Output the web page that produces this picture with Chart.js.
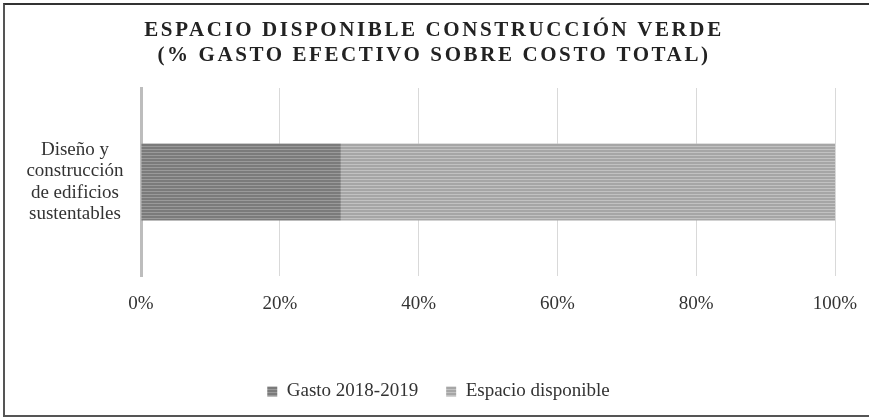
<!DOCTYPE html>
<html>
<head>
<meta charset="utf-8">
<script src="https://cdn.jsdelivr.net/npm/chart.js@4.4.1/dist/chart.umd.min.js"></script>
<style>
  html, body { margin: 0; padding: 0; background: #fff; }
  #wrap { position: relative; width: 869px; height: 417px; }
  #frame {
    position: absolute; left: 3px; top: 3px; width: 880px; height: 410px;
    border-left: 2px solid #555; border-top: 2px solid #333; border-bottom: 2px solid #555;
    pointer-events: none;
  }
  canvas { position: absolute; left: 0; top: 0; }
</style>
</head>
<body>
<div id="wrap">
  <canvas id="chart" width="869" height="417"></canvas>
  <div id="frame"></div>
</div>
<script>
const titleLines = ["ESPACIO DISPONIBLE CONSTRUCCIÓN VERDE", "(% GASTO EFECTIVO SOBRE COSTO TOTAL)"];
const categories = [["Diseño y", "construcción", "de edificios", "sustentables"]];
const seriesNames = ["Gasto 2018-2019", "Espacio disponible"];
const gastoValues = [0.288];
const espacioValues = [0.712];
const xTicks = [0, 0.2, 0.4, 0.6, 0.8, 1];

const serif = "'Liberation Serif', 'DejaVu Serif', serif";

function stripes(base, line) {
  const c = document.createElement("canvas");
  c.width = 4;
  c.height = 3;
  const g = c.getContext("2d");
  g.fillStyle = base;
  g.fillRect(0, 0, 4, 3);
  g.fillStyle = line;
  g.fillRect(0, 2, 4, 1);
  return g.createPattern(c, "repeat");
}

const ctx = document.getElementById("chart").getContext("2d");
const darkFill = stripes("#7b7b7b", "#9a9a9a");
const lightFill = stripes("#a6a6a6", "#c2c2c2");

const titlePlugin = {
  id: "spacedTitle",
  afterLayout(chart) {
    // nudge the legend a little right, like the original
    chart.legend.left += 4;
    chart.legend.right += 4;
  },
  afterDraw(chart) {
    const c = chart.ctx;
    c.save();
    c.fillStyle = "#222";
    c.font = "bold 21px " + serif;
    c.letterSpacing = "2.6px";
    c.textAlign = "center";
    c.textBaseline = "middle";
    c.fillText(titleLines[0], 434, 31);
    c.fillText(titleLines[1], 434, 56);
    c.restore();
  },
};

new Chart(ctx, {
  type: "bar",
  data: {
    labels: categories,
    datasets: [
      {
        label: seriesNames[0],
        data: gastoValues,
        backgroundColor: darkFill,
        borderWidth: 0,
        barPercentage: 0.41,
        categoryPercentage: 1,
      },
      {
        label: seriesNames[1],
        data: espacioValues,
        backgroundColor: lightFill,
        borderWidth: 0,
        barPercentage: 0.41,
        categoryPercentage: 1,
      },
    ],
  },
  options: {
    indexAxis: "y",
    responsive: false,
    animation: false,
    layout: { padding: { top: 88, right: 0, left: 0, bottom: 6 } },
    plugins: {
      title: { display: false },
      tooltip: { enabled: false },
      legend: {
        position: "bottom",
        labels: {
          color: "#333",
          font: { family: serif, size: 19 },
          boxWidth: 10,
          boxHeight: 10,
          padding: 28,
        },
      },
    },
    scales: {
      x: {
        stacked: true,
        min: 0,
        max: 1,
        afterBuildTicks: (scale) => { scale.ticks = xTicks.map((v) => ({ value: v })); },
        afterFit: (scale) => {
          scale.height = 78;
          scale.paddingLeft = 0;
          scale.paddingRight = 34;
        },
        ticks: {
          color: "#333",
          font: { family: serif, size: 19 },
          padding: 17,
          callback: (v) => Math.round(v * 100) + "%",
        },
        grid: { color: "#d9d9d9", lineWidth: 1, drawTicks: false },
        border: { display: false },
      },
      y: {
        stacked: true,
        afterFit: (scale) => { scale.width = 141; },
        ticks: {
          color: "#333",
          font: { family: serif, size: 19, lineHeight: 1.12 },
          crossAlign: "center",
          padding: 9.5,
        },
        grid: { display: false },
        border: { display: true, color: "#bdbdbd", width: 3 },
      },
    },
  },
  plugins: [titlePlugin],
});
</script>
</body>
</html>
